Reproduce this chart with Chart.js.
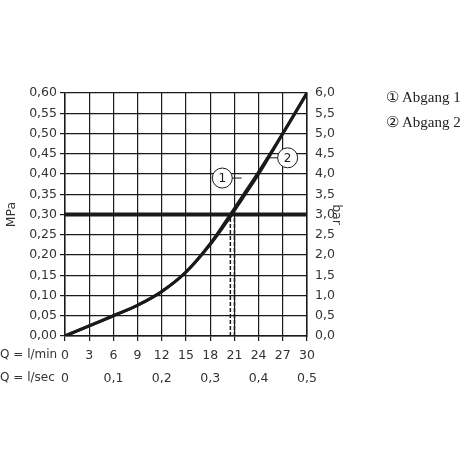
<!DOCTYPE html>
<html lang="de">
<head>
<meta charset="UTF-8" />
<title>Durchflussdiagramm</title>
<script src="https://cdn.jsdelivr.net/npm/chart.js"></script>
<style>
  * { margin: 0; padding: 0; box-sizing: border-box; }
  body { background: #fff; width: 470px; height: 470px; position: relative; overflow: hidden; }
  #wrap { position: absolute; left: 0; top: 0; width: 470px; height: 470px; }
  .legend { position: absolute; left: 386px; font-family: 'Liberation Serif', serif; font-size: 15px; color: #222; }
</style>
</head>
<body>
<div id="wrap"><canvas id="flow"></canvas></div>
<div class="legend" style="top:88px">&#9312; Abgang 1</div>
<div class="legend" style="top:113px">&#9313; Abgang 2</div>
<script>
// flow in l/min, pressure in MPa
const flowLmin = [0, 3, 6, 9, 12, 15, 18, 20.5, 22, 24, 27, 30];
const abgang1 = [0, 0.025, 0.05, 0.076, 0.11, 0.158, 0.228, 0.30, 0.345, 0.405, 0.50, 0.60];
const abgang2 = [0, 0.025, 0.05, 0.076, 0.11, 0.158, 0.226, 0.295, 0.34, 0.40, 0.50, 0.60];
const refPressure = 0.30;
const dash1 = 20.5;
const dash2 = 21;

const comma = (v, d) => v.toFixed(d).replace('.', ',');
const pts = ys => flowLmin.map((x, i) => ({ x: x, y: ys[i] }));
const ink = '#1a1a1a';
const font = { family: 'DejaVu Sans', size: 12.5 };

const extras = {
  id: 'extras',
  afterDraw(chart) {
    const { ctx, scales } = chart;
    const x = scales.x, y = scales.y;
    ctx.save();
    ctx.fillStyle = '#333';
    ctx.font = '12px DejaVu Sans';
    ctx.textBaseline = 'middle';
    ctx.textAlign = 'left';
    ctx.fillText('Q = l/min', 0, 355);
    ctx.fillText('Q = l/sec', 0, 378);
    // callouts: circle centre, then end of leader on the curve
    const marks = [[19.5, 0.39, 21.9, 0.39, '1'], [27.6, 0.44, 24.9, 0.44, '2']];
    ctx.lineWidth = 1;
    ctx.strokeStyle = ink;
    for (const [cx, cy, lx, ly, t] of marks) {
      const px = x.getPixelForValue(cx), py = y.getPixelForValue(cy);
      ctx.beginPath();
      ctx.moveTo(px, py);
      ctx.lineTo(x.getPixelForValue(lx), y.getPixelForValue(ly));
      ctx.stroke();
      ctx.beginPath();
      ctx.arc(px, py, 10, 0, Math.PI * 2);
      ctx.fillStyle = '#fff';
      ctx.fill();
      ctx.stroke();
      ctx.fillStyle = ink;
      ctx.textAlign = 'center';
      ctx.fillText(t, px, py + 1);
    }
    ctx.restore();
  }
};

new Chart(document.getElementById('flow'), {
  type: 'scatter',
  data: {
    datasets: [
      { data: [{ x: 0, y: refPressure }, { x: 30, y: refPressure }], showLine: true, borderColor: ink, borderWidth: 4, pointRadius: 0 },
      { data: [{ x: dash1, y: 0 }, { x: dash1, y: refPressure }], showLine: true, borderColor: ink, borderWidth: 1.5, borderDash: [4, 2], pointRadius: 0 },
      { data: [{ x: dash2, y: 0 }, { x: dash2, y: refPressure }], showLine: true, borderColor: ink, borderWidth: 1.5, borderDash: [4, 2], pointRadius: 0 },
      { label: 'Abgang 1', data: pts(abgang1), showLine: true, borderColor: ink, borderWidth: 3, pointRadius: 0, tension: 0.4 },
      { label: 'Abgang 2', data: pts(abgang2), showLine: true, borderColor: ink, borderWidth: 3, pointRadius: 0, tension: 0.4 }
    ]
  },
  options: {
    responsive: true,
    maintainAspectRatio: false,
    animation: false,
    layout: { padding: { top: 93, right: 126, bottom: 82, left: 0 } },
    plugins: { legend: { display: false }, tooltip: { enabled: false } },
    scales: {
      x: {
        type: 'linear', min: 0, max: 30,
        afterBuildTicks: a => { a.ticks = [0,3,6,9,12,15,18,21,24,27,30].map(v => ({ value: v })); },
        afterFit: a => { a.height = 26; },
        grid: { color: ink, lineWidth: 1.2, tickLength: 5 },
        border: { color: ink, width: 1.5 },
        ticks: { color: '#333', font: font, maxRotation: 0, padding: 7 }
      },
      x2: {
        type: 'linear', position: 'bottom', min: 0, max: 0.5,
        afterBuildTicks: a => { a.ticks = [0,0.1,0.2,0.3,0.4,0.5].map(v => ({ value: v })); },
        afterFit: a => { a.height = 26; },
        grid: { display: false },
        border: { display: false },
        ticks: { color: '#333', font: font, maxRotation: 0, padding: 1, callback: v => v === 0 ? '0' : comma(v, 1) }
      },
      y: {
        min: 0, max: 0.6,
        afterBuildTicks: a => { a.ticks = Array.from({ length: 13 }, (_, i) => ({ value: i * 0.05 })); },
        afterFit: a => { a.width = 65; },
        grid: { color: ink, lineWidth: 1.2, tickLength: 5 },
        border: { color: ink, width: 1.5 },
        title: { display: true, text: 'MPa', color: '#333', font: font, padding: { top: 4, bottom: 0 } },
        ticks: { color: '#333', font: font, padding: 3, callback: v => comma(v, 2) }
      },
      y2: {
        position: 'right', min: 0, max: 6,
        afterBuildTicks: a => { a.ticks = Array.from({ length: 13 }, (_, i) => ({ value: i * 0.5 })); },
        afterFit: a => { a.width = 37; },
        grid: { display: false, tickLength: 5 },
        border: { color: ink, width: 1.5 },
        title: { display: true, text: 'bar', color: '#333', font: font, padding: 0 },
        ticks: { color: '#333', font: font, padding: 3, callback: v => comma(v, 1) }
      }
    }
  },
  plugins: [extras]
});
</script>
</body>
</html>
